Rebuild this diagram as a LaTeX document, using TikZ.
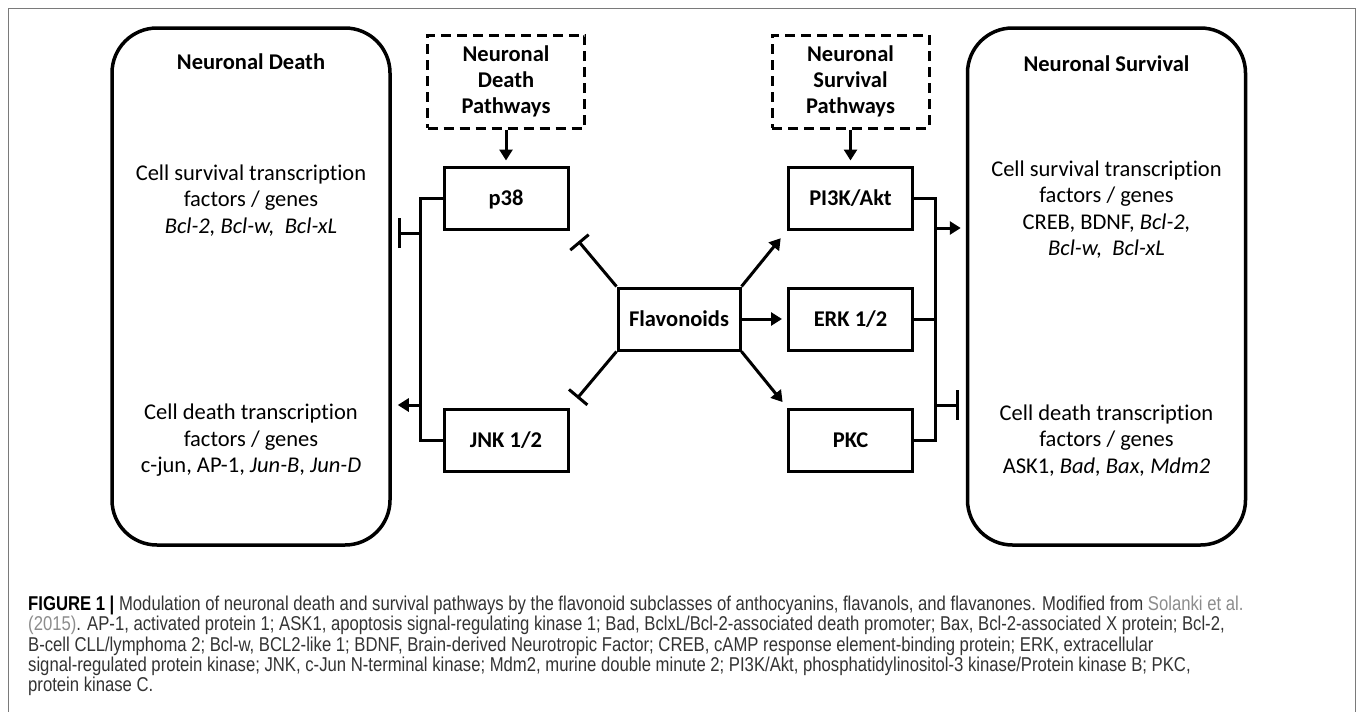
\documentclass[tikz,border=0pt]{standalone}
\usepackage{fontspec}
\setmainfont{Carlito}[Ligatures=NoCommon]
\newfontfamily\capfont[FakeStretch=0.834]{Liberation Sans}
\usetikzlibrary{arrows.meta,positioning}
\definecolor{captxt}{HTML}{333333}
\definecolor{citegrey}{HTML}{8C8C8C}
\definecolor{framegrey}{HTML}{7A7A7A}

\begin{document}
\begin{tikzpicture}[x=1pt,y=-1pt,
panel/.style={
  draw,
  line width=3.5pt,
  rounded corners=45pt,
  minimum width=278pt,
  minimum height=517pt},
kinase/.style={
  draw,
  line width=3pt,
  minimum width=124pt,
  minimum height=62pt,
  text height=14pt,
  text depth=0pt,
  font={\fontsize{22.5pt}{26pt}\selectfont\bfseries}},
pathway/.style={
  kinase,
  text height=,
  text depth=,
  dash pattern=on 10pt off 6pt,
  minimum width=157pt,
  minimum height=93pt,
  align=center},
head/.style={
  font={\fontsize{22.5pt}{26pt}\selectfont\bfseries}},
info/.style={
  align=center,
  font={\fontsize{22.5pt}{26.5pt}\selectfont}},
wire/.style={line width=3pt},
act/.style={wire,-{Triangle[length=11pt,width=13pt]}},
inh/.style={wire,-{Bar[width=30pt]}},
]
\useasboundingbox (0,0) rectangle (1358,712);
\draw[framegrey,line width=1pt] (8,712) -- (8,8) -- (1355,8) -- (1355,712);

\node[panel] (ND) at (251,286.5) {};
\node[head,yshift=225pt] (NDhead) at (ND.center) {Neuronal Death};
\node[info,yshift=86pt] (NDsurv) at (ND.center) {Cell survival transcription\\
factors / genes\\ \textit{Bcl-2, Bcl-w,~~Bcl-xL}};
\node[info,yshift=-154pt] (NDdeath) at (ND.center) {Cell death transcription\\
factors / genes\\ c-jun, AP-1, \textit{Jun-B}, \textit{Jun-D}};

\node[panel] (NS) at (1106.5,286.5) {};
\node[head,yshift=223pt] (NShead) at (NS.center) {Neuronal Survival};
\node[info,yshift=77pt] (NSsurv) at (NS.center) {Cell survival transcription\\
factors / genes\\ CREB, BDNF, \textit{Bcl-2,}\\ \textit{Bcl-w,~~Bcl-xL}};
\node[info,yshift=-154pt] (NSdeath) at (NS.center) {Cell death transcription\\
factors / genes\\ ASK1, \textit{Bad, Bax, Mdm2}};

\node[kinase] (p38) at (506,198) {p38};
\node[kinase,below=177pt of p38] (JNK) {JNK 1/2};
\node[kinase] (PI3K) at (850.5,198) {PI3K/Akt};
\node[kinase,below=56pt of PI3K] (ERK) {ERK 1/2};
\node[kinase,below=56pt of ERK] (PKC) {PKC};
\node[kinase,minimum width=122pt] (Flav) at (679,319) {Flavonoids};
\node[pathway,above=36pt of p38] (NDP) {Neuronal\\Death\\Pathways};
\node[pathway,above=36pt of PI3K] (NSP) {Neuronal\\Survival\\Pathways};

\draw[act,shorten >=5pt] (NDP) -- (p38);
\draw[act,shorten >=5pt] (NSP) -- (PI3K);
\draw[wire,-{Bar[width=24pt]},shorten >=14pt] (Flav.north west) -- (p38.south east);
\draw[act,shorten >=10pt] (Flav.north east) -- (PI3K.south west);
\draw[act,shorten >=5pt] (Flav) -- (ERK);
\draw[wire,-{Bar[width=24pt]},shorten >=12pt] (Flav.south west) -- (JNK.north east);
\draw[act,shorten >=7pt] (Flav.south east) -- (PKC.north west);

\coordinate[left=22pt of p38.west] (lb);
\coordinate[below=35pt of lb] (lt);
\coordinate[below=207pt of lb] (la);
\draw[wire] (p38.west) -- (lb) |- (JNK.west);
\draw[inh,shorten >=6pt] (lt) -- (lt -| ND.east);
\draw[act,shorten >=6pt] (la) -- (la -| ND.east);

\coordinate[right=21pt of PI3K.east] (rb);
\coordinate[below=30pt of rb] (ra);
\coordinate[below=207pt of rb] (rt);
\draw[wire] (PI3K.east) -- (rb) |- (PKC.east);
\draw[wire] (ERK.east) -- (ERK.east -| rb);
\draw[act,shorten >=5pt] (ra) -- (ra -| NS.west);
\draw[inh,shorten >=7pt] (rt) -- (rt -| NS.west);

\node[anchor=north west,inner sep=0pt,align=left,text=captxt,
  font={\capfont\fontsize{20pt}{20.3pt}\selectfont}] (cap) at (28,596)
{\textbf{\color{black}FIGURE 1 |} Modulation of neuronal death and survival pathways by the flavonoid subclasses of anthocyanins, flavanols, and flavanones. Modified from {\color{citegrey}Solanki et al.}\\
{\color{citegrey}(2015)}. AP-1, activated protein 1; ASK1, apoptosis signal-regulating kinase 1; Bad, BclxL/Bcl-2-associated death promoter; Bax, Bcl-2-associated X protein; Bcl-2,\\
B-cell CLL/lymphoma 2; Bcl-w, BCL2-like 1; BDNF, Brain-derived Neurotropic Factor; CREB, cAMP response element-binding protein; ERK, extracellular\\
signal-regulated protein kinase; JNK, c-Jun N-terminal kinase; Mdm2, murine double minute 2; PI3K/Akt, phosphatidylinositol-3 kinase/Protein kinase B; PKC,\\
protein kinase C.};
\end{tikzpicture}
\end{document}
